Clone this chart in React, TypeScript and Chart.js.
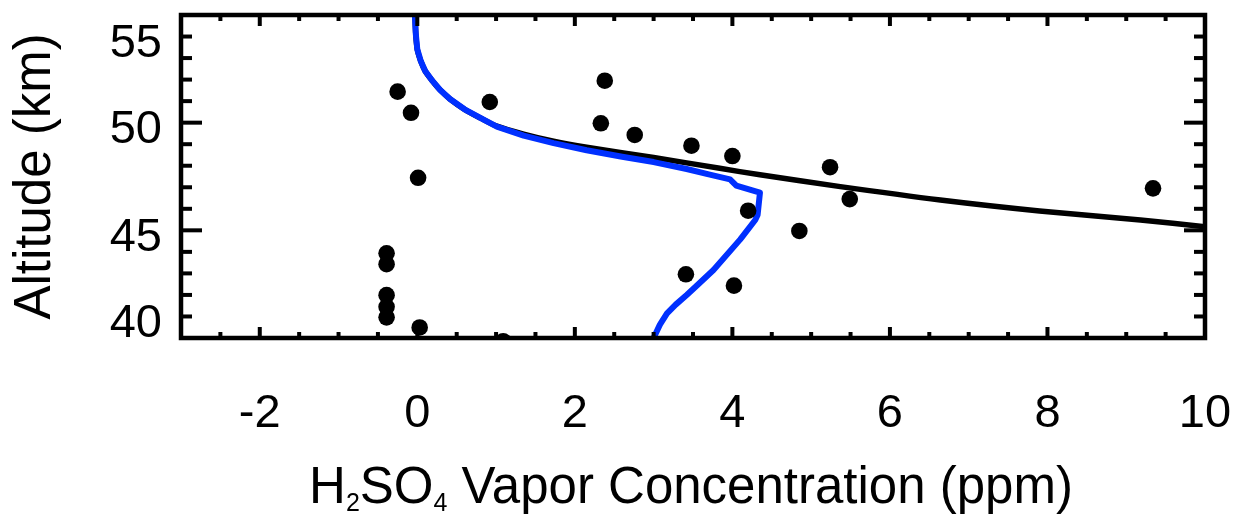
import React, { useEffect, useRef } from 'react';
import { Chart, registerables } from 'chart.js';

Chart.register(...registerables);

// ---- axes ----
const X_MIN = -3;
const X_MAX = 10;
const Y_MIN = 40;
const Y_MAX = 55;
const X_TICKS = [-2, 0, 2, 4, 6, 8, 10];
const Y_TICKS = [40, 45, 50, 55];
const X_MINOR_STEP = 0.5;
const Y_MINOR_STEP = 1;
const X_TITLE_PARTS = [
  { text: 'H', sub: false },
  { text: '2', sub: true },
  { text: 'SO', sub: false },
  { text: '4', sub: true },
  { text: ' Vapor Concentration (ppm)', sub: false },
];
const Y_TITLE = 'Altitude (km)';

// ---- observations (black dots) ----
const OBS_X = [-0.25, -0.08, 0.01, 0.92, 2.38, 2.33, 2.76, 3.48, 4.0, 5.24, 5.49, 9.34, 4.2, 4.85, 3.41, 4.02, -0.39, -0.39, -0.39, -0.39, -0.39, 0.03, 1.09];
const OBS_Y = [51.44, 50.46, 47.44, 50.96, 51.95, 49.97, 49.43, 48.93, 48.45, 47.93, 46.45, 46.95, 45.91, 44.97, 42.96, 42.43, 43.93, 43.43, 41.99, 41.45, 40.96, 40.49, 39.85];

// ---- model profile (blue) ----
const MODEL_X = [-0.03, -0.02, 0.0, 0.045, 0.1, 0.19, 0.29, 0.415, 0.6, 0.8, 1.01, 1.35, 1.73, 2.15, 2.6, 3.0, 3.42, 3.7, 3.97, 4.05, 4.35, 4.32, 4.29, 4.1, 3.76, 3.55, 3.42, 3.28, 3.17, 3.08, 3.0];
const MODEL_Y = [55.0, 54.15, 53.4, 52.85, 52.4, 51.95, 51.52, 51.1, 50.62, 50.22, 49.82, 49.4, 49.05, 48.72, 48.42, 48.17, 47.85, 47.6, 47.37, 47.08, 46.75, 45.71, 45.48, 44.58, 43.16, 42.44, 42.0, 41.55, 41.14, 40.62, 40.0];

// ---- saturation curve (black) ----
const SAT_X = [-0.03, -0.02, 0.0, 0.045, 0.1, 0.19, 0.29, 0.415, 0.6, 0.8, 1.01, 1.35, 1.73, 2.15, 3.0, 3.84, 4.35, 5.37, 6.64, 7.9, 9.18, 10.0];
const SAT_Y = [55.0, 54.15, 53.4, 52.85, 52.4, 51.95, 51.52, 51.1, 50.62, 50.22, 49.84, 49.47, 49.14, 48.86, 48.38, 47.88, 47.58, 47.03, 46.41, 45.9, 45.48, 45.17];

const FONT = '"Liberation Sans", Arial, Helvetica, sans-serif';

const frameAxesPlugin = {
  id: 'frameAxes',
  afterDatasetsDraw(chart: any) {
    const { ctx, chartArea, scales } = chart;
    const { left, right, top, bottom } = chartArea;
    const xs = scales.x;
    const ys = scales.y;
    ctx.save();
    ctx.strokeStyle = '#000';
    ctx.fillStyle = '#000';
    ctx.lineCap = 'butt';
    ctx.lineWidth = 4;
    const seg = (x1: number, y1: number, x2: number, y2: number) => {
      ctx.beginPath();
      ctx.moveTo(x1, y1);
      ctx.lineTo(x2, y2);
      ctx.stroke();
    };
    // x ticks (top and bottom, inward)
    const nx = Math.round((X_MAX - X_MIN) / X_MINOR_STEP);
    for (let i = 1; i < nx; i++) {
      const v = X_MIN + i * X_MINOR_STEP;
      const px = xs.getPixelForValue(v);
      const major = X_TICKS.some((t) => Math.abs(t - v) < 1e-6);
      const len = major ? 11 : 6;
      seg(px, top, px, top + len);
      seg(px, bottom, px, bottom - len);
    }
    // y ticks (left and right, inward)
    const ny = Math.round((Y_MAX - Y_MIN) / Y_MINOR_STEP);
    for (let i = 1; i < ny; i++) {
      const v = Y_MIN + i * Y_MINOR_STEP;
      const py = ys.getPixelForValue(v);
      const major = Y_TICKS.some((t) => Math.abs(t - v) < 1e-6);
      const len = major ? 21 : 11;
      seg(left, py, left + len, py);
      seg(right, py, right - len, py);
    }
    // frame
    ctx.lineWidth = 4.5;
    ctx.strokeRect(left, top, right - left, bottom - top);

    // x tick labels
    const tickSize = 47;
    ctx.font = `${tickSize}px ${FONT}`;
    ctx.textAlign = 'center';
    ctx.textBaseline = 'alphabetic';
    X_TICKS.forEach((v) => {
      ctx.fillText(String(v), xs.getPixelForValue(v), bottom + 89);
    });
    // y tick labels (kept inside the axis span)
    ctx.textAlign = 'right';
    Y_TICKS.forEach((v) => {
      let py = ys.getPixelForValue(v) + 4;
      py = Math.min(Math.max(py, top + 25), bottom - 18);
      ctx.fillText(String(v), left - 19, py + tickSize * 0.358);
    });

    // y title
    ctx.save();
    ctx.font = `51px ${FONT}`;
    ctx.textAlign = 'center';
    ctx.textBaseline = 'alphabetic';
    ctx.translate(left - 131, (top + bottom) / 2);
    ctx.rotate(-Math.PI / 2);
    ctx.fillText(Y_TITLE, 0, 0);
    ctx.restore();

    // x title with subscripts
    const mainFont = `51px ${FONT}`;
    const subFont = `25px ${FONT}`;
    let total = 0;
    X_TITLE_PARTS.forEach((p) => {
      ctx.font = p.sub ? subFont : mainFont;
      total += ctx.measureText(p.text).width;
    });
    let cx = (left + right) / 2 - 2 - total / 2;
    const base = bottom + 165;
    ctx.textAlign = 'left';
    X_TITLE_PARTS.forEach((p) => {
      ctx.font = p.sub ? subFont : mainFont;
      ctx.fillText(p.text, cx, p.sub ? base + 8 : base);
      cx += ctx.measureText(p.text).width;
    });
    ctx.restore();
  },
};

export default function App() {
  const canvasRef = useRef<HTMLCanvasElement | null>(null);

  useEffect(() => {
    document.body.style.margin = '0';
    const canvas = canvasRef.current;
    if (!canvas) return;
    const toPts = (xs: number[], ys: number[]) => xs.map((x, i) => ({ x, y: ys[i] }));
    const chart = new Chart(canvas, {
      type: 'scatter',
      data: {
        datasets: [
          {
            label: 'Observations',
            data: toPts(OBS_X, OBS_Y),
            backgroundColor: '#000',
            borderWidth: 0,
            pointRadius: 8.3,
            pointHoverRadius: 8.3,
            showLine: false,
            clip: 0,
            order: 0,
          } as any,
          {
            label: 'Model',
            data: toPts(MODEL_X, MODEL_Y),
            borderColor: '#0030ff',
            borderWidth: 6,
            pointRadius: 0,
            showLine: true,
            tension: 0,
            borderJoinStyle: 'round',
            clip: 0,
            order: 1,
          } as any,
          {
            label: 'Saturation',
            data: toPts(SAT_X, SAT_Y),
            borderColor: '#000',
            borderWidth: 5.5,
            pointRadius: 0,
            showLine: true,
            tension: 0.3,
            borderJoinStyle: 'round',
            clip: 0,
            order: 2,
          } as any,
        ],
      },
      options: {
        responsive: false,
        maintainAspectRatio: false,
        animation: false,
        layout: { padding: { left: 181, right: 39, top: 15, bottom: 178 } },
        scales: {
          x: { type: 'linear', min: X_MIN, max: X_MAX, display: false },
          y: { type: 'linear', min: Y_MIN, max: Y_MAX, display: false },
        },
        plugins: {
          legend: { display: false },
          tooltip: { enabled: false },
          title: { display: false },
        },
      },
      plugins: [frameAxesPlugin],
    });
    return () => chart.destroy();
  }, []);

  return (
    <div style={{ position: 'fixed', left: 0, top: 0, width: 1244, height: 516, background: '#fff' }}>
      <canvas ref={canvasRef} width={1244} height={516} />
    </div>
  );
}
